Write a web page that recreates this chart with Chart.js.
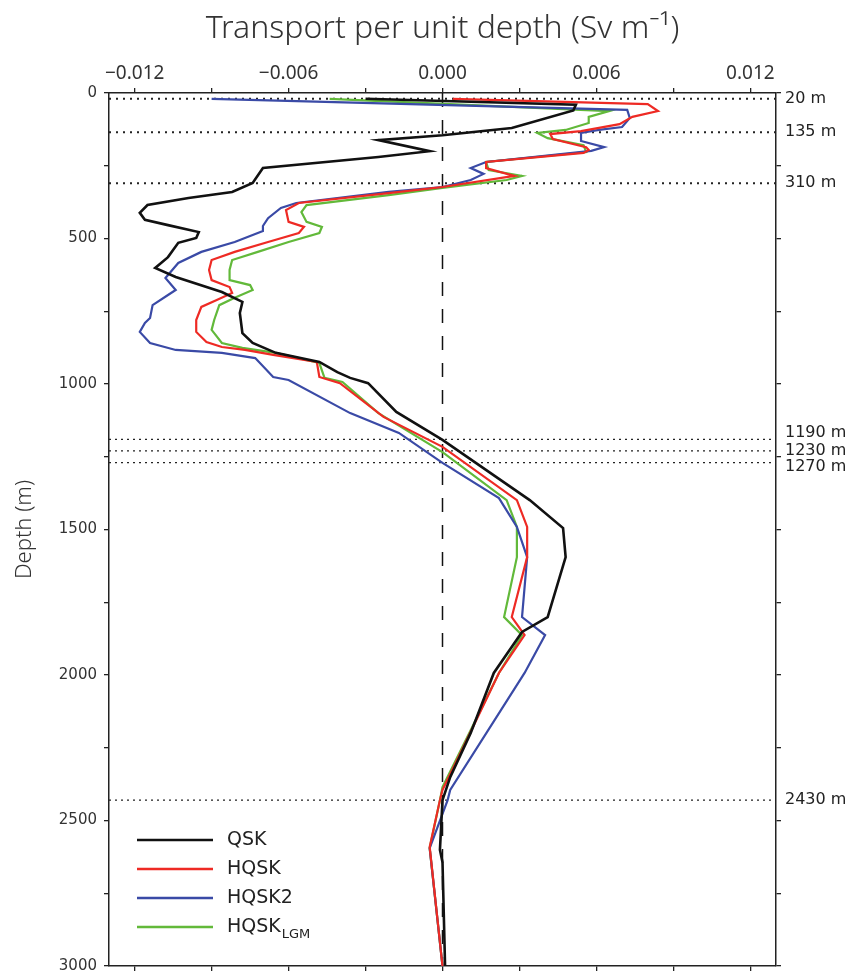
<!DOCTYPE html>
<html>
<head>
<meta charset="utf-8">
<script src="https://cdn.jsdelivr.net/npm/chart.js@4.4.1/dist/chart.umd.min.js"></script>
<style>
  html, body { margin: 0; padding: 0; background: #fff; }
  canvas { display: block; }
</style>
</head>
<body>
<canvas id="myChart" width="848" height="973"></canvas>
<script>
// 軸の目盛り
const xTicks = [-0.012, -0.009, -0.006, -0.003, 0, 0.003, 0.006, 0.009, 0.012];
const yTicks = [0, 250, 500, 750, 1000, 1250, 1500, 1750, 2000, 2250, 2500, 2750, 3000];

// 基準深度 (m)
const refDepths = [20, 135, 310, 1190, 1230, 1270, 2430];

// 系列名
const seriesNames = ['QSK', 'HQSK', 'HQSK2', 'HQSK_LGM'];

// QSK
const qskDepth = [20, 40, 60, 120, 145, 162, 200, 220, 258, 309, 340, 361, 385, 412, 436, 454, 478, 498, 515, 564,
  601, 632, 684, 718, 756, 825, 859, 893, 924, 959, 979, 997, 1096, 1192, 1399, 1495, 1595, 1801, 1852, 1993,
  2199, 2351, 2430, 2601, 2643, 3000];
const qskTransport = [-0.0030, 0.0052, 0.0051, 0.0027, 0.0000, -0.0025, -0.0005, -0.0025, -0.0070, -0.0074,
  -0.0082, -0.0099, -0.0115, -0.0118, -0.0116, -0.0107, -0.0095, -0.0096, -0.0103, -0.0107,
  -0.0112, -0.0104, -0.0086, -0.0078, -0.0079, -0.0078, -0.0074, -0.0065, -0.0048, -0.0041,
  -0.0036, -0.0029, -0.0018, 0.0000, 0.0034, 0.0047, 0.0048, 0.0041, 0.0031, 0.0020,
  0.0011, 0.0003, 0.0000, -0.0001, 0.0000, 0.0001];

// HQSK
const hqskDepth = [20, 38, 62, 82, 107, 131, 141, 158, 186, 196, 206, 237, 258, 285, 323, 344, 378, 402, 443, 460,
  481, 512, 546, 574, 608, 643, 667, 687, 711, 735, 780, 821, 856, 873, 883, 900, 924, 976, 997, 1113,
  1216, 1399, 1491, 1595, 1801, 1863, 1993, 2268, 2395, 2430, 2591, 3000];
const hqskTransport = [0.0004, 0.0080, 0.0084, 0.0074, 0.0069, 0.0054, 0.0042, 0.0043, 0.0056, 0.0057,
  0.0055, 0.0017, 0.0017, 0.0028, 0.0000, -0.0021, -0.0056, -0.0061, -0.0060, -0.0054,
  -0.0056, -0.0068, -0.0081, -0.0090, -0.0091, -0.0090, -0.0083, -0.0082, -0.0088, -0.0094,
  -0.0096, -0.0096, -0.0092, -0.0086, -0.0077, -0.0066, -0.0049, -0.0048, -0.0040, -0.0023,
  0.0000, 0.0029, 0.0033, 0.0033, 0.0027, 0.0032, 0.0022, 0.0007, 0.0000, -0.0001,
  -0.0005, 0.0000];

// HQSK2
const hqsk2Depth = [20, 58, 86, 117, 127, 137, 165, 186, 199, 237, 258, 278, 299, 323, 340, 378, 395, 430, 457, 474,
  512, 546, 584, 636, 677, 694, 729, 773, 790, 821, 859, 883, 893, 911, 976, 986, 1100, 1168, 1271, 1392,
  1491, 1595, 1801, 1863, 1993, 2395, 2430, 2595, 3000];
const hqsk2Transport = [-0.0090, 0.0072, 0.0073, 0.0070, 0.0061, 0.0054, 0.0054, 0.0063, 0.0058, 0.0017,
  0.0011, 0.0016, 0.0011, 0.0000, -0.0021, -0.0057, -0.0063, -0.0068, -0.0070, -0.0070,
  -0.0081, -0.0094, -0.0103, -0.0108, -0.0104, -0.0107, -0.0113, -0.0114, -0.0116, -0.0118,
  -0.0114, -0.0104, -0.0086, -0.0073, -0.0066, -0.0060, -0.0036, -0.0017, 0.0000, 0.0022,
  0.0029, 0.0033, 0.0031, 0.0040, 0.0032, 0.0003, 0.0002, -0.0005, 0.0000];

// HQSK_LGM
const lgmDepth = [20, 62, 82, 103, 127, 137, 155, 179, 203, 237, 265, 285, 299, 326, 351, 385, 409, 443, 460, 481,
  512, 546, 574, 608, 643, 660, 677, 704, 729, 780, 814, 859, 876, 893, 928, 979, 993, 1100, 1234, 1399,
  1491, 1595, 1801, 1863, 1993, 2385, 2430, 2595, 3000];
const lgmTransport = [-0.0044, 0.0065, 0.0057, 0.0057, 0.0048, 0.0037, 0.0041, 0.0055, 0.0056, 0.0017,
  0.0018, 0.0031, 0.0025, 0.0000, -0.0021, -0.0053, -0.0055, -0.0053, -0.0047, -0.0048,
  -0.0060, -0.0072, -0.0082, -0.0083, -0.0083, -0.0075, -0.0074, -0.0081, -0.0087, -0.0089,
  -0.0090, -0.0086, -0.0078, -0.0065, -0.0048, -0.0046, -0.0039, -0.0025, 0.0000, 0.0025,
  0.0029, 0.0029, 0.0024, 0.0031, 0.0022, 0.0000, -0.0001, -0.0005, 0.0000];

const xMin = -0.013, xMax = 0.013;
const yMin = 0, yMax = 3000;

const colors = ['#111111', '#ee2a24', '#3a4aa6', '#62b93a'];
const labelNudge = [0, 0, 0, -6, 0, 4, 0];

const toPoints = (depths, values) => depths.map((d, i) => ({ x: values[i], y: d }));

const series = [
  toPoints(qskDepth, qskTransport),
  toPoints(hqskDepth, hqskTransport),
  toPoints(hqsk2Depth, hqsk2Transport),
  toPoints(lgmDepth, lgmTransport)
];

const datasets = series.map((pts, i) => ({
  label: seriesNames[i],
  data: pts,
  showLine: true,
  borderColor: colors[i],
  backgroundColor: colors[i],
  borderWidth: i === 0 ? 2.6 : 2.2,
  pointRadius: 0,
  tension: 0,
  order: i + 1
}));

// 基準線 (点線)
refDepths.forEach((d, i) => {
  datasets.push({
    label: 'ref' + d,
    data: [{ x: xMin, y: d }, { x: xMax, y: d }],
    showLine: true,
    borderColor: '#222',
    borderWidth: i < 3 ? 2 : 1.2,
    borderDash: i < 3 ? [2, 5] : [2, 4],
    pointRadius: 0,
    order: 20
  });
});

// x = 0 の破線
datasets.push({
  label: 'zero',
  data: [{ x: 0, y: yMin }, { x: 0, y: yMax }],
  showLine: true,
  borderColor: '#111',
  borderWidth: 1.5,
  borderDash: [14, 13],
  pointRadius: 0,
  order: 21
});

const fmtX = v => {
  if (Math.abs(v) < 1e-9) return '0.000';
  const s = Math.abs(v).toFixed(3);
  return v < 0 ? '\u2212' + s : s;
};

const tickFont = { family: '"Noto Sans", sans-serif', size: 19 };
const numFont = { family: '"DejaVu Sans", sans-serif', size: 15 };

// 右側のラベルと凡例
const annotate = {
  id: 'annotate',
  afterDraw(chart) {
    const { ctx, chartArea, scales: { y } } = chart;
    ctx.save();
    ctx.fillStyle = '#222';
    ctx.textBaseline = 'middle';
    ctx.font = '16px "DejaVu Sans", sans-serif';
    refDepths.forEach((d, i) => {
      ctx.fillText(d + ' m', chartArea.right + 9, y.getPixelForValue(d) + labelNudge[i]);
    });

    const x0 = chartArea.left + 28;
    const y0 = chartArea.bottom - 126;
    seriesNames.forEach((name, i) => {
      const yy = y0 + i * 29;
      ctx.strokeStyle = colors[i];
      ctx.lineWidth = 2.6;
      ctx.beginPath();
      ctx.moveTo(x0, yy);
      ctx.lineTo(x0 + 76, yy);
      ctx.stroke();
      const [main, sub] = name.split('_');
      ctx.fillStyle = '#222';
      ctx.font = '19px "DejaVu Sans", sans-serif';
      ctx.fillText(main, x0 + 90, yy);
      if (sub) {
        const w = ctx.measureText(main).width;
        ctx.font = '13px "DejaVu Sans", sans-serif';
        ctx.fillText(sub, x0 + 90 + w + 1, yy + 8);
      }
    });
    ctx.restore();
  }
};

const ctx = document.getElementById('myChart').getContext('2d');
new Chart(ctx, {
  type: 'scatter',
  data: { datasets: datasets },
  options: {
    responsive: false,
    animation: false,
    layout: { padding: 0 },
    plugins: { legend: { display: false }, tooltip: { enabled: false } },
    scales: {
      x: {
        type: 'linear', position: 'top', min: xMin, max: xMax,
        afterBuildTicks: s => { s.ticks = xTicks.map(v => ({ value: v })); },
        afterFit: s => { s.height = 93; s.paddingLeft = 0; s.paddingRight = 0; },
        ticks: {
          autoSkip: false, maxRotation: 0, padding: 3, color: '#333', font: tickFont,
          callback: v => (Math.round(v * 1000) % 6 === 0 ? fmtX(v) : '')
        },
        grid: { drawOnChartArea: false, tickLength: 5, color: '#222', lineWidth: 1.3 },
        border: { color: '#222', width: 1.5 },
        title: {
          display: true, text: 'Transport per unit depth (Sv m\u207B\u00B9)', color: '#333',
          font: { family: '"Noto Sans", sans-serif', size: 32, weight: '300' }, padding: { top: 10, bottom: 0 }
        }
      },
      x2: {
        type: 'linear', position: 'bottom', min: xMin, max: xMax,
        afterBuildTicks: s => { s.ticks = xTicks.map(v => ({ value: v })); },
        afterFit: s => { s.height = 7; s.paddingLeft = 0; s.paddingRight = 0; },
        ticks: { autoSkip: false, callback: () => '' },
        grid: { drawOnChartArea: false, tickLength: 5, color: '#222', lineWidth: 1.3 },
        border: { color: '#222', width: 1.5 }
      },
      y: {
        type: 'linear', position: 'left', reverse: true, min: yMin, max: yMax,
        afterBuildTicks: s => { s.ticks = yTicks.map(v => ({ value: v })); },
        afterFit: s => { s.width = 109; s.paddingTop = 0; s.paddingBottom = 0; },
        ticks: {
          autoSkip: false, padding: 7, color: '#333', font: numFont,
          callback: v => (v % 500 === 0 ? String(v) : '')
        },
        grid: { drawOnChartArea: false, tickLength: 5, color: '#222', lineWidth: 1.3 },
        border: { color: '#222', width: 1.5 },
        title: {
          display: true, text: 'Depth (m)', color: '#333',
          font: { family: '"Noto Sans", sans-serif', size: 22, weight: '300' }, padding: { top: 12, bottom: 0 }
        }
      },
      y2: {
        type: 'linear', position: 'right', reverse: true, min: yMin, max: yMax,
        afterBuildTicks: s => { s.ticks = yTicks.map(v => ({ value: v })); },
        afterFit: s => { s.width = 72; s.paddingTop = 0; s.paddingBottom = 0; },
        ticks: { autoSkip: false, callback: () => '' },
        grid: { drawOnChartArea: false, tickLength: 5, color: '#222', lineWidth: 1.3 },
        border: { color: '#222', width: 1.5 }
      }
    }
  },
  plugins: [annotate]
});
</script>
</body>
</html>
